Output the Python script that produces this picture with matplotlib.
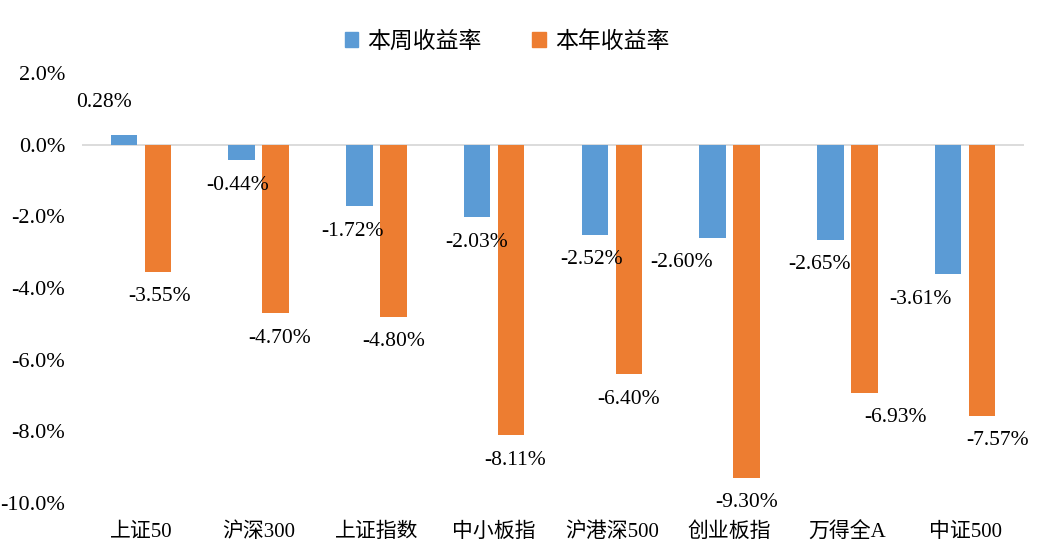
import matplotlib
matplotlib.use("Agg")
import matplotlib.pyplot as plt
from matplotlib.patches import Patch
from matplotlib.ticker import FuncFormatter
import numpy as np

plt.rcParams['font.family'] = ['Liberation Serif', 'Noto Sans CJK SC']

# index names and returns (%)
categories = ['上证50', '沪深300', '上证指数', '中小板指', '沪港深500', '创业板指', '万得全A', '中证500']
weekly = [0.28, -0.44, -1.72, -2.03, -2.52, -2.60, -2.65, -3.61]
yearly = [-3.55, -4.70, -4.80, -8.11, -6.40, -9.30, -6.93, -7.57]
series_names = ['本周收益率', '本年收益率']

# small manual label nudges (points), like the hand-placed labels in the original
weekly_dx = [-14, -3, -5, 0, -2, -22, -8, -20]
yearly_dx = [1, 3, 0, 3, 0, 0, 22, 11]

blue = '#5B9BD5'
orange = '#ED7D31'

fig = plt.figure(figsize=(10.45, 5.5), dpi=100)
ax = fig.add_axes([82 / 1045, 1 - 503 / 550, (1024 - 82) / 1045, (503 - 73) / 550])

x = np.arange(len(categories))
w = 0.225
off = 0.145
b1 = ax.bar(x - off, weekly, w, color=blue, zorder=2)
b2 = ax.bar(x + off, yearly, w, color=orange, zorder=2)

ax.axhline(0, color='#D9D9D9', lw=1.3, zorder=1)

for bars, vals, dxs in ((b1, weekly, weekly_dx), (b2, yearly, yearly_dx)):
    for rect, v, dx in zip(bars, vals, dxs):
        cx = rect.get_x() + rect.get_width() / 2
        dy = 23 if v > 0 else -18
        ax.annotate(f'{v:.2f}%', (cx, v), xytext=(dx, dy), textcoords='offset points',
                    ha='center', va='center', fontsize=15.5, color='black')

ax.set_xlim(-0.5, len(categories) - 0.5)
ax.set_ylim(-10, 2)
ax.set_yticks(np.arange(-10, 2.1, 2))
ax.yaxis.set_major_formatter(FuncFormatter(lambda v, p: f'{v:.1f}%'))
ax.set_xticks(x)
ax.set_xticklabels(categories, fontsize=15)
ax.tick_params(axis='y', length=0, pad=12, labelsize=16)
ax.tick_params(axis='x', length=0, pad=14)
for s in ax.spines.values():
    s.set_visible(False)

handles = [Patch(color=blue), Patch(color=orange)]
fig.legend(handles, series_names, loc='center', bbox_to_anchor=(507 / 1045, 1 - 42 / 550),
           ncol=2, frameon=False, fontsize=16.5, handlelength=0.6, handleheight=0.6,
           handletextpad=0.4, columnspacing=2.2)

fig.savefig('out.png', dpi=100)
